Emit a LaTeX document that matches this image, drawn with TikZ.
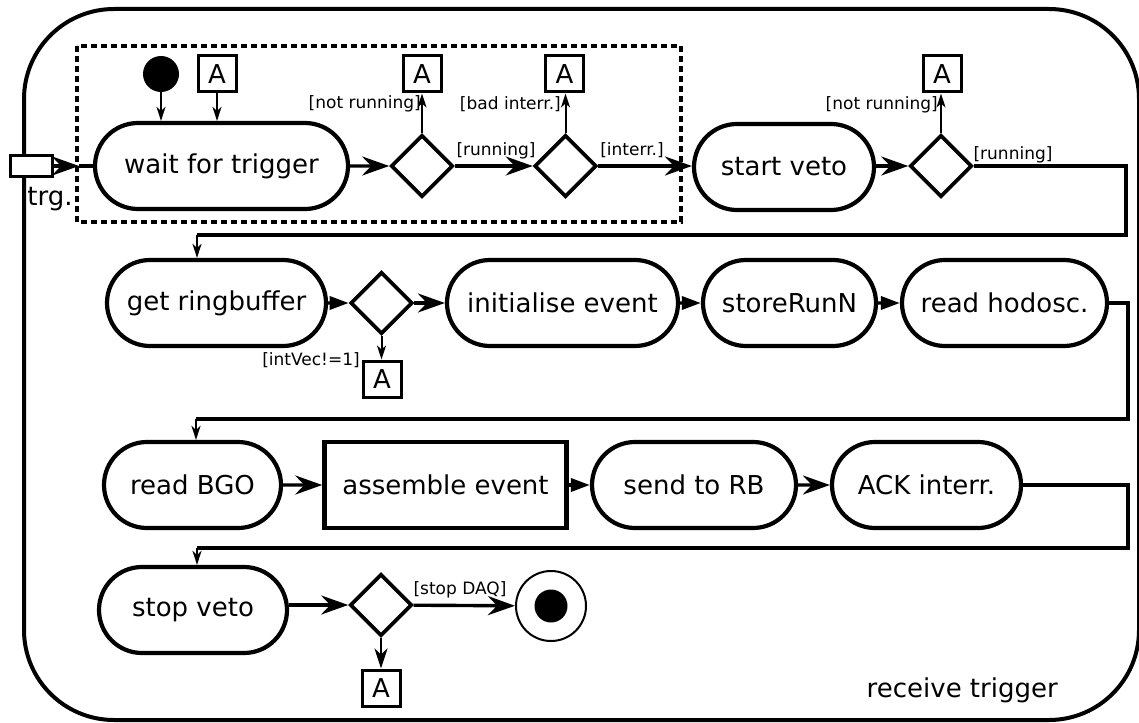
\documentclass[tikz,border=0pt]{standalone}
\usepackage{fontspec}
\setmainfont{DejaVu Sans}
\usetikzlibrary{shapes.misc,shapes.geometric,arrows.meta}
\pgfdeclarelayer{back}
\pgfsetlayers{back,main}
\begin{document}
\begin{tikzpicture}[x=1pt,y=-1pt,
  lbl/.style={font=\fontsize{26pt}{30pt}\selectfont},
  guard/.style={font=\fontsize{17pt}{20pt}\selectfont, inner sep=0pt},
  action/.style={rounded rectangle, draw, fill=white, line width=4.2pt, minimum height=86pt, inner sep=0pt, lbl},
  decision/.style={diamond, draw, fill=white, line width=3.6pt, minimum width=62pt, minimum height=62pt, inner sep=0pt},
  conn/.style={rectangle, draw, fill=white, line width=3pt, minimum width=38pt, minimum height=36pt, inner sep=0pt, lbl},
  flow/.style={line width=3.4pt, -{Stealth[length=27pt,width=19pt,inset=9pt]}},
  gapflow/.style={line width=3.4pt, -{Triangle[length=19pt,width=13pt]}},
  midflow/.style={line width=2.8pt, -{Stealth[length=20pt,width=13pt,inset=6pt]}},
  thinflow/.style={line width=2pt, -{Stealth[length=14pt,width=9pt,inset=4pt]}},
  plain/.style={line width=3.4pt},
]
\useasboundingbox (0,0) rectangle (1139,722);

% ---------- row 1: waiting loop ----------
\node[circle, fill=black, minimum size=36pt, inner sep=0pt] (start) at (161,74) {};
\node[conn] (a0) at (217,74) {A};
\node[action, minimum width=253pt] (wait) at (221.5,166) {wait for trigger};
\node[decision] (d1) at (422,166) {};
\node[conn] (a1) at (422,74) {A};
\node[decision] (d2) at (565.5,166) {};
\node[conn] (a2) at (564.5,74) {A};
\node[action, minimum width=180pt] (veto) at (784,167) {start veto};
\node[decision] (d3) at (941,166) {};
\node[conn] (a3) at (942,74) {A};
\node[rectangle, draw, fill=white, line width=3.4pt, minimum width=42pt, minimum height=21pt, inner sep=0pt] (trg) at (31.5,166) {};
\node[lbl, inner sep=0pt] (trglbl) at (50,199) {trg.};

% ---------- row 2 ----------
\node[action, minimum width=219pt] (getrb) at (216.5,303) {get ringbuffer};
\node[decision] (d4) at (381.5,303) {};
\node[conn] (a4) at (382,379) {A};
\node[action, minimum width=231pt] (initev) at (562.5,303) {initialise event};
\node[action, minimum width=173pt] (store) at (789.5,303) {storeRunN};
\node[action, minimum width=205pt] (hodo) at (1004.5,303) {read hodosc.};

% ---------- row 3 ----------
\node[action, minimum width=177pt] (bgo) at (192.5,485) {read BGO};
\node[rectangle, draw, fill=white, line width=4.5pt, minimum width=242pt, minimum height=86pt, inner sep=0pt, lbl] (assemble) at (445.5,485) {assemble event};
\node[action, minimum width=204pt] (send) at (694,485) {send to RB};
\node[action, minimum width=189pt] (ack) at (926.5,485) {ACK interr.};

% ---------- row 4 ----------
\node[action, minimum width=188pt] (stopveto) at (193,610) {stop veto};
\node[decision] (d5) at (381,605) {};
\node[conn] (a5) at (381,688) {A};
\node[circle, draw, fill=white, line width=2pt, minimum size=70pt, inner sep=0pt] (final) at (551,606) {};
\node[circle, fill=black, minimum size=33pt, inner sep=0pt] (finaldot) at (final.center) {};

% ---------- guards and title ----------
\node[guard, anchor=east] (gnr1) at (421,104) {[not running]};
\node[guard, anchor=east] (gbad) at (561,104) {[bad interr.]};
\node[guard] (grun1) at (496,150.5) {[running]};
\node[guard] (gint) at (632,150.5) {[interr.]};
\node[guard, anchor=east] (gnr3) at (938,105) {[not running]};
\node[guard] (grun3) at (1013,154.5) {[running]};
\node[guard] (gvec) at (311,360.5) {[intVec!=1]};
\node[guard] (gstop) at (460,590) {[stop DAQ]};
\node[lbl, anchor=east, inner sep=0pt] (title) at (1058,690) {receive trigger};

% turning points of the long connectors
\coordinate (gate) at (79,166);
\coordinate (t1a) at (1126,166);
\coordinate (t1b) at (1126,235);
\coordinate (t1c) at (197,235);
\coordinate (t2a) at (1128,303);
\coordinate (t2b) at (1128,419);
\coordinate (t2c) at (196,419);
\coordinate (t3a) at (1128,485);
\coordinate (t3b) at (1128,548);
\coordinate (t3c) at (197,548);

\begin{pgfonlayer}{back}
  % activity frame and interruptible region
  \draw[line width=4pt, rounded corners=90pt] (24,9) rectangle (1139,720);
  \draw[line width=3.4pt, dash pattern=on 6pt off 4pt] (77,46) rectangle (681,222);

  % row 1
  \draw[thinflow] (start.south) -- (start.south |- wait.north);
  \draw[thinflow] (a0.south) -- (a0.south |- wait.north);
  \draw[flow] (trg.east) -- (gate);
  \draw[plain] (gate) -- (wait.west);
  \draw[flow] (wait) -- (d1);
  \draw[thinflow] (d1.north) -- (d1.north |- a1.south);
  \draw[flow] (d1) -- (d2);
  \draw[thinflow] (d2.north) -- (d2.north |- a2.south);
  \draw[flow] (d2.east) -- (d2.east -| veto.west);
  \draw[flow] (veto.east |- d3.west) -- (d3.west);
  \draw[thinflow] (d3.north) -- (d3.north |- a3.south);
  \draw[plain] (d3.east) -- (t1a) -- (t1b) -- (t1c);
  \draw[thinflow] (t1c) -- (t1c |- getrb.north);

  % row 2
  \draw[gapflow] (getrb) -- (d4);
  \draw[flow] (d4) -- (initev);
  \draw[thinflow] (d4.south) -- (d4.south |- a4.north);
  \draw[gapflow] (initev) -- (store);
  \draw[gapflow] (store) -- (hodo);
  \draw[plain] (hodo.east) -- (t2a) -- (t2b) -- (t2c);
  \draw[thinflow] (t2c) -- (t2c |- bgo.north);

  % row 3
  \draw[flow] (bgo) -- (assemble);
  \draw[gapflow] (assemble) -- (send);
  \draw[flow] (send) -- (ack);
  \draw[plain] (ack.east) -- (t3a) -- (t3b) -- (t3c);
  \draw[thinflow] (t3c) -- (t3c |- stopveto.north);

  % row 4
  \draw[flow] (stopveto.east |- d5.west) -- (d5.west);
  \draw[flow] (d5) -- (final);
  \draw[midflow] (d5.south) -- (d5.south |- a5.north);
\end{pgfonlayer}
\end{tikzpicture}
\end{document}
